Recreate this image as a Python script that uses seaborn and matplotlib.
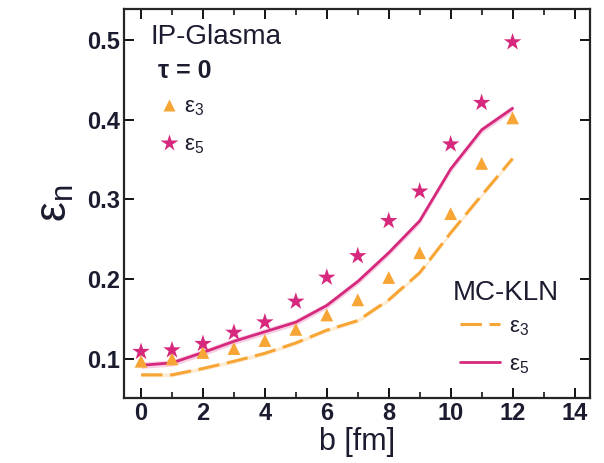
import matplotlib
matplotlib.use("Agg")
import matplotlib.pyplot as plt
import seaborn as sns
import pandas as pd
from matplotlib.lines import Line2D
from matplotlib.ticker import MultipleLocator

b = [0, 1, 2, 3, 4, 5, 6, 7, 8, 9, 10, 11, 12]
ip_eps3 = [0.097, 0.100, 0.108, 0.113, 0.123, 0.137, 0.155, 0.174, 0.202, 0.233, 0.282, 0.345, 0.402]
ip_eps5 = [0.109, 0.111, 0.119, 0.133, 0.146, 0.172, 0.202, 0.229, 0.273, 0.310, 0.369, 0.421, 0.497]
kln_eps3 = [0.080, 0.080, 0.088, 0.097, 0.107, 0.120, 0.136, 0.148, 0.174, 0.208, 0.258, 0.305, 0.351]
kln_eps5 = [0.092, 0.095, 0.108, 0.122, 0.134, 0.146, 0.167, 0.197, 0.233, 0.273, 0.338, 0.387, 0.414]
band = 0.004

df = pd.DataFrame({"b": b, "ip3": ip_eps3, "ip5": ip_eps5, "k3": kln_eps3, "k5": kln_eps5})

sns.set_style("ticks")
plt.rcParams["font.family"] = ["Liberation Sans", "DejaVu Sans"]

ORANGE = "#F7A535"
MAGENTA = "#D6287C"
TXT = "#1c1c30"

fig = plt.figure(figsize=(6.04, 4.63), dpi=100)
ax = fig.add_axes([124/604, 1-398/463, (590-124)/604, (398-9)/463])

ax.fill_between(df["b"], df["k5"]-band, df["k5"]+band, color=MAGENTA, alpha=0.22, lw=0)
ax.fill_between(df["b"], df["k3"]-band*0.6, df["k3"]+band*0.6, color=ORANGE, alpha=0.22, lw=0)
sns.lineplot(data=df, x="b", y="k3", ax=ax, color=ORANGE, lw=2.2)
ax.lines[-1].set_dashes([7, 2.5])
sns.lineplot(data=df, x="b", y="k5", ax=ax, color=MAGENTA, lw=2.0)
sns.scatterplot(data=df, x="b", y="ip3", ax=ax, marker="^", s=85, color=ORANGE, edgecolor="none", zorder=5)
sns.scatterplot(data=df, x="b", y="ip5", ax=ax, marker="*", s=175, color=MAGENTA, edgecolor="none", zorder=6)

ax.set_xlim(-0.55, 14.5)
ax.set_ylim(0.051, 0.5385)
ax.xaxis.set_major_locator(MultipleLocator(2))
ax.xaxis.set_minor_locator(MultipleLocator(1))
ax.set_yticks([0.1, 0.2, 0.3, 0.4, 0.5])
ax.set_yticklabels(["0.1", "0.2", "0.3", "0.4", "0.5"])
ax.tick_params(axis="both", which="major", direction="in", length=7, width=1.3,
               top=True, right=True, labelsize=17, colors="black", labelcolor=TXT, pad=3)
ax.tick_params(axis="x", which="minor", direction="in", length=4, width=1.3, top=True)
for lab in ax.get_xticklabels() + ax.get_yticklabels():
    lab.set_fontweight("bold")
for sp in ax.spines.values():
    sp.set_linewidth(1.6)
    sp.set_visible(True)

ax.set_xlabel("b [fm]", fontsize=22, color=TXT, labelpad=1)
ax.set_ylabel("ε$_\\mathregular{n}$", fontsize=32, color=TXT, labelpad=8)

ax.text(0.32, 0.503, "IP-Glasma", fontsize=20, color=TXT, va="center", ha="left")
ax.text(0.55, 0.461, "τ = 0", fontsize=18, color=TXT, va="center", ha="left", fontweight="bold")

h1 = [Line2D([], [], marker="^", ls="none", color=ORANGE, markersize=9, markeredgecolor="none"),
      Line2D([], [], marker="*", ls="none", color=MAGENTA, markersize=13, markeredgecolor="none")]
leg1 = ax.legend(h1, ["ε$_\\mathregular{3}$", "ε$_\\mathregular{5}$"], loc="upper left",
                 bbox_to_anchor=(0.077, 0.775), frameon=False, fontsize=16, handlelength=0.8,
                 handletextpad=0.3, labelspacing=0.75, labelcolor=TXT,
                 borderpad=0, borderaxespad=0)
ax.add_artist(leg1)
ax.text(10.06, 0.183, "MC-KLN", fontsize=20, color=TXT, va="center", ha="left")
h2 = [Line2D([], [], color=ORANGE, lw=2.2, dashes=[7, 2.5]),
      Line2D([], [], color=MAGENTA, lw=2.0)]
leg2 = ax.legend(h2, ["ε$_\\mathregular{3}$", "ε$_\\mathregular{5}$"], loc="upper left",
                 bbox_to_anchor=(0.721, 0.211), frameon=False, fontsize=16, handlelength=1.8,
                 handletextpad=0.4, labelspacing=0.75, labelcolor=TXT,
                 borderpad=0, borderaxespad=0)

fig.savefig("out.png", dpi=100)
